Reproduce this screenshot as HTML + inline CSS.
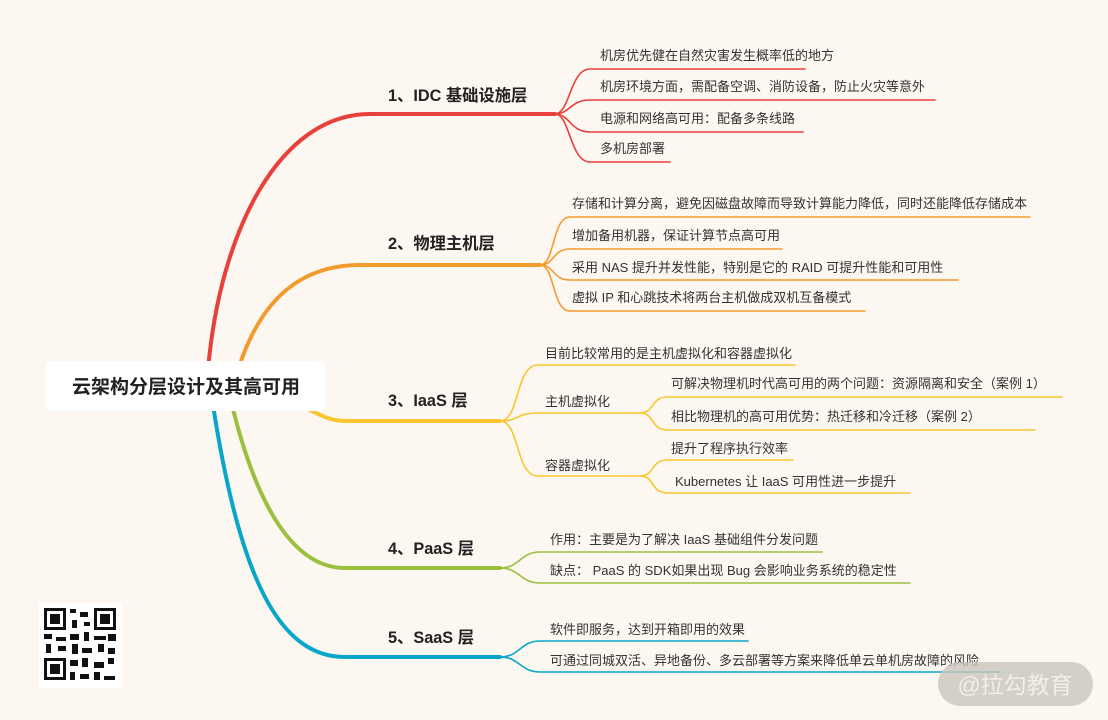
<!DOCTYPE html>
<html><head><meta charset="utf-8"><style>
body{margin:0;background:#fcf8f1;}
svg{display:block;font-family:"Liberation Sans","Noto Sans CJK SC",sans-serif;}
.s{font-size:13px;fill:#333;}
.b{font-size:16.3px;font-weight:bold;fill:#222;}
</style></head><body>
<svg width="1108" height="720" viewBox="0 0 1108 720">
<rect width="1108" height="720" fill="#fcf8f1"/>
<g fill="none" stroke-linecap="round">
<path d="M208 370 C220 230 280 114 370 114 L555 114" stroke="#e8403a" stroke-width="4"/>
<path d="M238 370 C260 300 300 265 360 265 L540 265" stroke="#f39a2d" stroke-width="4"/>
<path d="M300 405 C320 415 330 421 345 421 L500 421" stroke="#f9c530" stroke-width="4"/>
<path d="M232 405 C260 520 300 568 345 568 L500 568" stroke="#9bbf3f" stroke-width="4"/>
<path d="M213 405 C240 580 280 657 345 657 L500 657" stroke="#0aa6c9" stroke-width="4"/>
<g stroke="#e8403a" stroke-width="1.6">
<path d="M555 114 C570 114 570 69 590 69 L805 69"/>
<path d="M555 114 C570 114 570 100 590 100 L935 100"/>
<path d="M555 114 C570 114 570 132 590 132 L803 132"/>
<path d="M555 114 C570 114 570 162 590 162 L670 162"/>
</g>
<g stroke="#f39a2d" stroke-width="1.6">
<path d="M540 265 C555 265 552 217 570 217 L1030 217"/>
<path d="M540 265 C555 265 552 249 570 249 L782 249"/>
<path d="M540 265 C555 265 552 280 570 280 L958 280"/>
<path d="M540 265 C555 265 552 311 570 311 L865 311"/>
</g>
<g stroke="#f9c530" stroke-width="1.6">
<path d="M500 421 C520 421 515 365 538 365 L795 365"/>
<path d="M500 421 C520 421 515 413 538 413 L640 413"/>
<path d="M500 421 C520 421 515 476 538 476 L640 476"/>
<path d="M640 413 C655 413 650 397 668 397 L1062 397"/>
<path d="M640 413 C655 413 650 430 668 430 L1035 430"/>
<path d="M640 476 C655 476 650 460 668 460 L793 460"/>
<path d="M640 476 C655 476 650 493 668 493 L910 493"/>
</g>
<g stroke="#9bbf3f" stroke-width="1.6">
<path d="M500 568 C520 568 520 552 540 552 L822 552"/>
<path d="M500 568 C520 568 520 583 540 583 L910 583"/>
</g>
<g stroke="#0aa6c9" stroke-width="1.6">
<path d="M500 657 C520 657 520 641 540 641 L748 641"/>
<path d="M500 657 C520 657 520 672 540 672 L1000 672"/>
</g>
</g>
<rect x="46" y="361" width="279" height="50" rx="6" fill="#fff"/>
<text x="186" y="393" text-anchor="middle" style="font-size:19px;font-weight:bold;fill:#222">云架构分层设计及其高可用</text>
<text class="b" x="388" y="101">1、IDC 基础设施层</text>
<text class="b" x="388" y="249">2、物理主机层</text>
<text class="b" x="388" y="406">3、IaaS 层</text>
<text class="b" x="388" y="554">4、PaaS 层</text>
<text class="b" x="388" y="643">5、SaaS 层</text>
<text class="s" x="600" y="60">机房优先健在自然灾害发生概率低的地方</text>
<text class="s" x="600" y="91">机房环境方面，需配备空调、消防设备，防止火灾等意外</text>
<text class="s" x="600" y="123">电源和网络高可用：配备多条线路</text>
<text class="s" x="600" y="153">多机房部署</text>
<text class="s" x="572" y="208">存储和计算分离，避免因磁盘故障而导致计算能力降低，同时还能降低存储成本</text>
<text class="s" x="572" y="240">增加备用机器，保证计算节点高可用</text>
<text class="s" x="572" y="272">采用 NAS 提升并发性能，特别是它的 RAID 可提升性能和可用性</text>
<text class="s" x="572" y="302">虚拟 IP 和心跳技术将两台主机做成双机互备模式</text>
<text class="s" x="545" y="358">目前比较常用的是主机虚拟化和容器虚拟化</text>
<text class="s" x="545" y="406">主机虚拟化</text>
<text class="s" x="545" y="470">容器虚拟化</text>
<text class="s" x="671" y="388">可解决物理机时代高可用的两个问题：资源隔离和安全（案例 1）</text>
<text class="s" x="671" y="421">相比物理机的高可用优势：热迁移和冷迁移（案例 2）</text>
<text class="s" x="671" y="453">提升了程序执行效率</text>
<text class="s" x="675" y="486">Kubernetes  让 IaaS 可用性进一步提升</text>
<text class="s" x="550" y="544">作用：主要是为了解决 IaaS 基础组件分发问题</text>
<text class="s" x="550" y="575">缺点：  PaaS 的 SDK如果出现 Bug 会影响业务系统的稳定性</text>
<text class="s" x="550" y="634">软件即服务，达到开箱即用的效果</text>
<text class="s" x="550" y="665">可通过同城双活、异地备份、多云部署等方案来降低单云单机房故障的风险</text>
<rect x="39" y="603" width="83" height="85" fill="#fff"/>
<g fill="#111">
<rect x="44" y="608" width="22" height="22"/><rect x="47" y="611" width="16" height="16" fill="#fff"/><rect x="50" y="614" width="10" height="10"/>
<rect x="94" y="608" width="22" height="22"/><rect x="97" y="611" width="16" height="16" fill="#fff"/><rect x="100" y="614" width="10" height="10"/>
<rect x="44" y="658" width="22" height="22"/><rect x="47" y="661" width="16" height="16" fill="#fff"/><rect x="50" y="664" width="10" height="10"/>
<rect x="70" y="609" width="6" height="4"/><rect x="80" y="612" width="8" height="5"/><rect x="72" y="620" width="5" height="8"/><rect x="84" y="622" width="6" height="4"/>
<rect x="44" y="634" width="8" height="5"/><rect x="56" y="637" width="10" height="4"/><rect x="70" y="634" width="9" height="6"/><rect x="84" y="632" width="5" height="9"/><rect x="94" y="636" width="12" height="4"/><rect x="108" y="634" width="8" height="7"/>
<rect x="46" y="644" width="5" height="9"/><rect x="58" y="646" width="8" height="5"/><rect x="72" y="644" width="6" height="10"/><rect x="82" y="648" width="10" height="5"/><rect x="98" y="644" width="6" height="8"/><rect x="108" y="648" width="7" height="6"/>
<rect x="70" y="660" width="8" height="6"/><rect x="82" y="658" width="6" height="9"/><rect x="94" y="662" width="10" height="6"/><rect x="108" y="658" width="6" height="6"/>
<rect x="70" y="672" width="5" height="8"/><rect x="80" y="674" width="9" height="5"/><rect x="94" y="672" width="6" height="8"/><rect x="104" y="676" width="11" height="4"/>
</g>
<rect x="938" y="662" width="155" height="44" rx="22" fill="#c9c5bd" opacity="0.8"/>
<text x="1015" y="693" text-anchor="middle" style="font-size:23px;fill:#f2efe9">@拉勾教育</text>
</svg>
</body></html>
